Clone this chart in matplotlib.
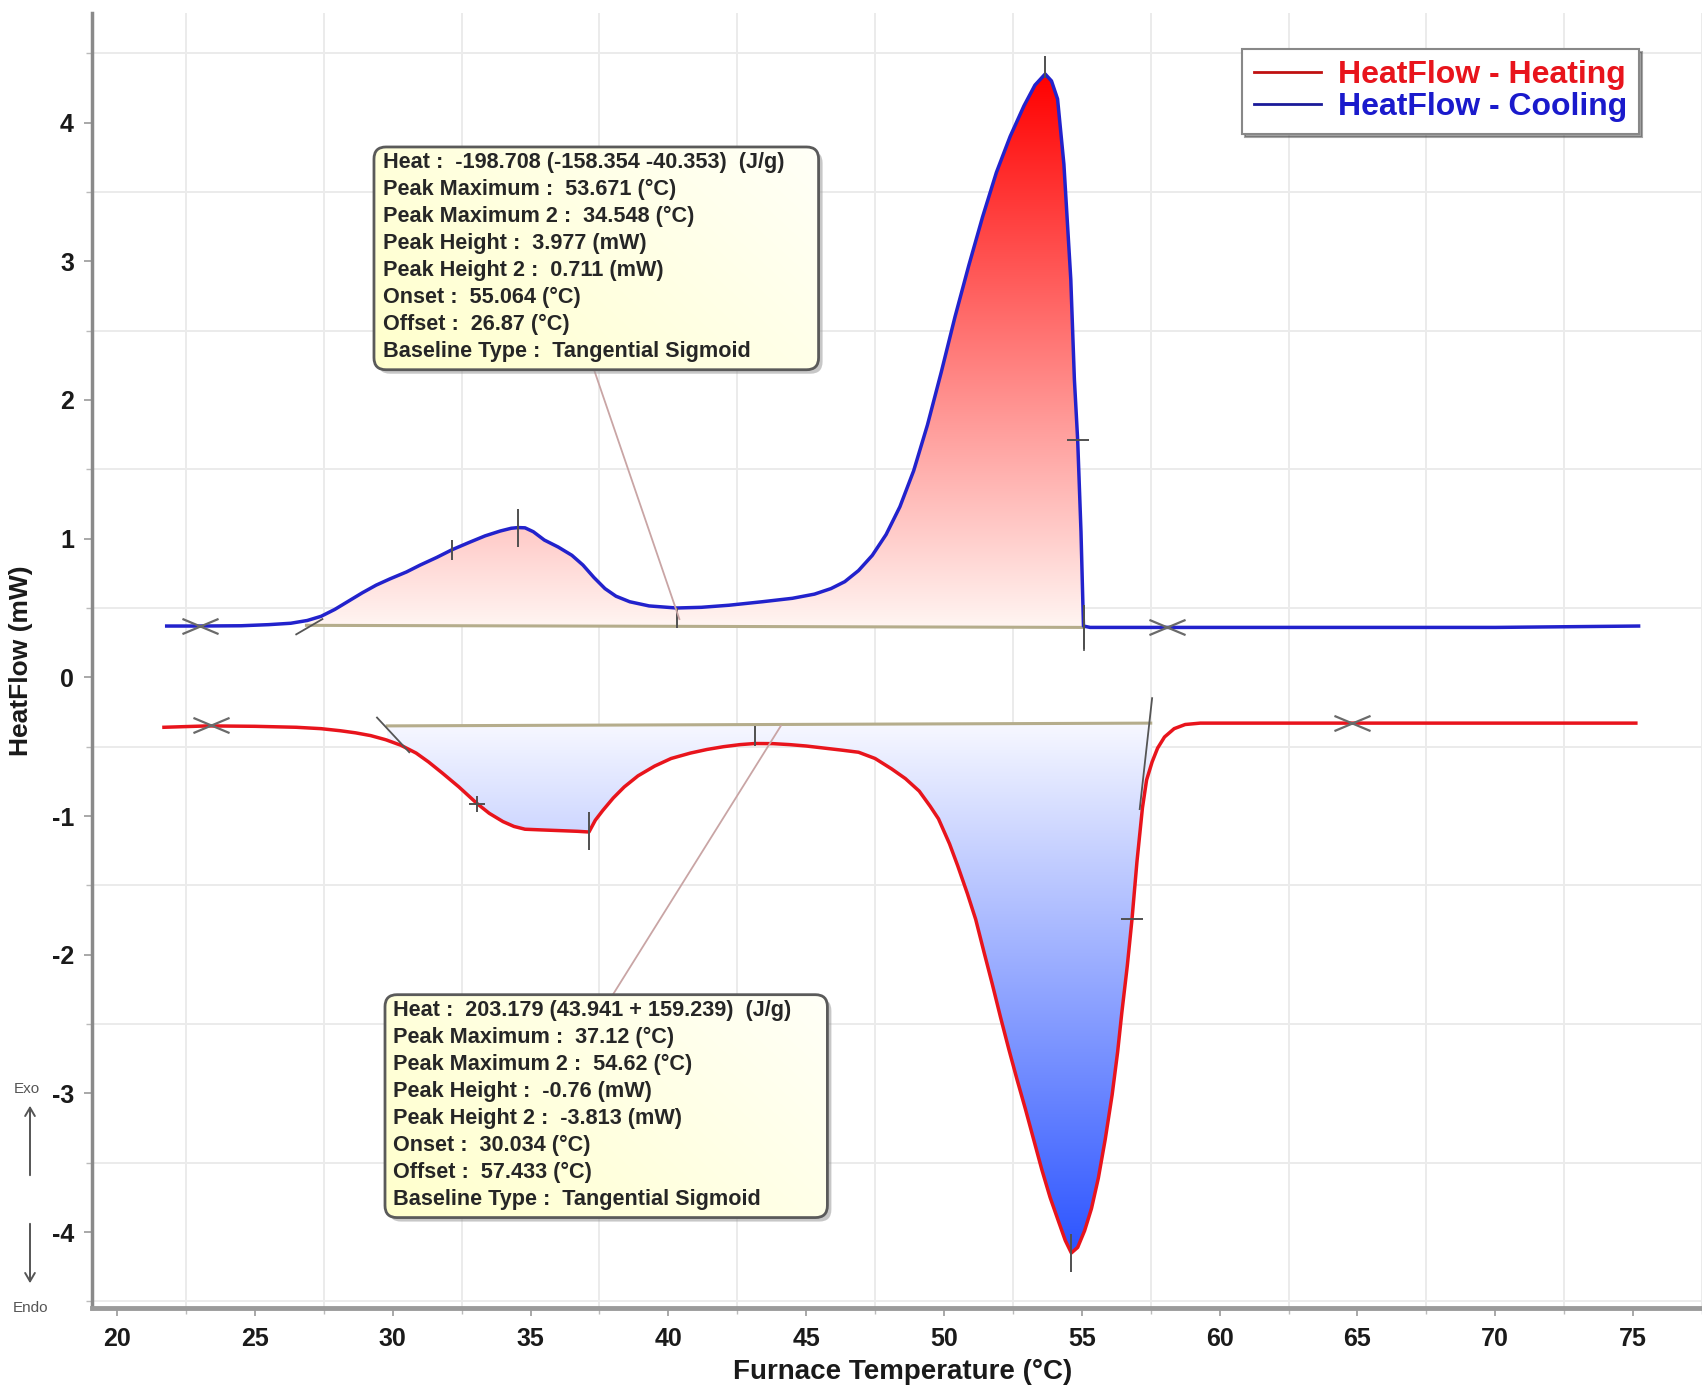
import numpy as np
import matplotlib
matplotlib.use("Agg")
import matplotlib.pyplot as plt
from matplotlib.patches import FancyBboxPatch, Polygon, FancyArrowPatch
from matplotlib.colors import LinearSegmentedColormap
from matplotlib.lines import Line2D
from matplotlib.path import Path

plt.rcParams['font.family'] = ['Liberation Sans', 'DejaVu Sans']

# ---------------- data ----------------
cool_T = [21.8, 23.0, 24.5, 25.5, 26.3, 26.9, 27.4, 27.9, 28.4, 28.9, 29.4, 29.9,
          30.5, 31.0, 31.6, 32.15, 32.8, 33.35, 33.9, 34.3, 34.55, 34.8, 35.1, 35.5,
          36.0, 36.5, 36.9, 37.3, 37.7, 38.1, 38.6, 39.3, 40.3, 41.2, 42.2, 43.4,
          44.5, 45.3, 45.9, 46.4, 46.9, 47.4, 47.9, 48.4, 48.9, 49.4, 49.9, 50.4,
          50.9, 51.4, 51.9, 52.4, 52.9, 53.3, 53.67, 53.9, 54.12, 54.35, 54.6, 54.73,
          54.85, 54.97, 55.06, 55.3, 58.0, 62.0, 66.0, 70.0, 75.2]
cool_HF = [0.37, 0.37, 0.372, 0.38, 0.39, 0.41, 0.44, 0.49, 0.55, 0.61, 0.665, 0.71,
           0.76, 0.81, 0.865, 0.92, 0.975, 1.02, 1.055, 1.075, 1.08, 1.078, 1.05, 0.99,
           0.94, 0.88, 0.81, 0.72, 0.64, 0.585, 0.545, 0.515, 0.50, 0.505, 0.52, 0.545,
           0.57, 0.60, 0.64, 0.69, 0.77, 0.88, 1.03, 1.23, 1.49, 1.82, 2.20, 2.60,
           2.97, 3.32, 3.64, 3.90, 4.12, 4.27, 4.35, 4.30, 4.17, 3.70, 2.87, 2.15,
           1.71, 1.05, 0.37, 0.36, 0.36, 0.36, 0.36, 0.36, 0.37]

heat_T = [21.7, 23.3, 25.0, 26.5, 27.4, 28.1, 28.65, 29.2, 29.75, 30.3, 30.85, 31.3,
          31.8, 32.4, 33.06, 33.5, 34.0, 34.4, 34.8, 35.4, 36.05, 36.7, 37.12, 37.35,
          37.62, 38.0, 38.4, 38.9, 39.5, 40.1, 40.8, 41.4, 42.0, 42.6, 43.14, 43.8,
          44.4, 45.0, 45.65, 46.3, 46.9, 47.5, 48.1, 48.6, 49.1, 49.5, 49.8, 50.2,
          50.5, 50.85, 51.15, 51.45, 51.75, 52.05, 52.35, 52.65, 52.95, 53.25, 53.55, 53.85,
          54.15, 54.4, 54.62, 54.85, 55.1, 55.35, 55.6, 55.85, 56.1, 56.3, 56.45, 56.65,
          56.82, 57.0, 57.2, 57.35, 57.55, 57.75, 58.0, 58.35, 58.75, 59.3, 62.0, 66.0,
          70.0, 75.1]
heat_HF = [-0.36, -0.35, -0.353, -0.36, -0.37, -0.385, -0.40, -0.42, -0.45, -0.49, -0.546, -0.61,
           -0.69, -0.79, -0.91, -0.98, -1.04, -1.075, -1.095, -1.10, -1.105, -1.11, -1.115, -1.03,
           -0.96, -0.87, -0.79, -0.71, -0.64, -0.585, -0.546, -0.52, -0.50, -0.485, -0.477, -0.478,
           -0.485, -0.495, -0.51, -0.525, -0.54, -0.585, -0.66, -0.73, -0.82, -0.93, -1.02, -1.20,
           -1.36, -1.56, -1.745, -1.98, -2.21, -2.45, -2.68, -2.90, -3.11, -3.33, -3.55, -3.75,
           -3.92, -4.06, -4.15, -4.11, -3.99, -3.83, -3.61, -3.33, -3.01, -2.70, -2.42, -2.08,
           -1.745, -1.33, -0.94, -0.74, -0.61, -0.51, -0.43, -0.37, -0.34, -0.33, -0.33, -0.33,
           -0.33, -0.33]

# tangential sigmoid baselines
cool_base_T = [26.87, 55.064]
cool_base_HF = [0.375, 0.36]
heat_base_T = [29.8, 57.5]
heat_base_HF = [-0.35, -0.33]

# tangent construction lines
cool_tan_T = [[26.5, 27.45], [55.064, 55.064]]
cool_tan_HF = [[0.31, 0.42], [0.2, 0.51]]
heat_tan_T = [[29.43, 30.6], [57.55, 57.1]]
heat_tan_HF = [[-0.29, -0.54], [-0.15, -0.95]]

# integration limit markers (X)
cool_lim_T = [23.0, 58.1]
cool_lim_HF = [0.37, 0.36]
heat_lim_T = [23.4, 64.8]
heat_lim_HF = [-0.34, -0.33]

# characteristic point ticks
cool_vt_T = [34.548, 53.671, 40.3, 32.15, 55.064]
cool_vt_HF = [1.08, 4.40, 0.43, 0.92, 0.36]
cool_vt_size = [28, 16, 14, 14, 32]
cool_ht_T = [54.85]
cool_ht_HF = [1.71]
heat_vt_T = [37.12, 43.14, 54.62]
heat_vt_HF = [-1.11, -0.42, -4.15]
heat_vt_size = [28, 15, 28]
heat_ht_T = [56.82]
heat_ht_HF = [-1.745]
heat_cross_T = [33.06]
heat_cross_HF = [-0.91]

top_lines = ["Heat :  -198.708 (-158.354 -40.353)  (J/g)",
             "Peak Maximum :  53.671 (°C)",
             "Peak Maximum 2 :  34.548 (°C)",
             "Peak Height :  3.977 (mW)",
             "Peak Height 2 :  0.711 (mW)",
             "Onset :  55.064 (°C)",
             "Offset :  26.87 (°C)",
             "Baseline Type :  Tangential Sigmoid"]
bot_lines = ["Heat :  203.179 (43.941 + 159.239)  (J/g)",
             "Peak Maximum :  37.12 (°C)",
             "Peak Maximum 2 :  54.62 (°C)",
             "Peak Height :  -0.76 (mW)",
             "Peak Height 2 :  -3.813 (mW)",
             "Onset :  30.034 (°C)",
             "Offset :  57.433 (°C)",
             "Baseline Type :  Tangential Sigmoid"]

x_ticks = list(range(20, 80, 5))
y_ticks = [-4, -3, -2, -1, 0, 1, 2, 3, 4]

# ---------------- figure ----------------
W, H = 1702, 1386
fig = plt.figure(figsize=(W / 100, H / 100), dpi=100)
ax = fig.add_axes([92 / W, 1 - 1308 / H, 1610 / W, 1295 / H])
XLIM = (19.09, 77.44)
YLIM = (-4.547, 4.79)

RED = '#e8141c'
BLUE = '#2222cc'


def gradient_fill(T, HF, bT, bHF, y_lo, y_hi, c_lo, c_hi):
    T = np.asarray(T, float)
    HF = np.asarray(HF, float)
    t0, t1 = bT[0], bT[-1]
    m = (T > t0) & (T < t1)
    xs = np.concatenate([[t0], T[m], [t1]])
    ys = np.concatenate([[np.interp(t0, T, HF)], HF[m], [np.interp(t1, T, HF)]])
    bs = np.interp(xs, bT, bHF)
    verts = list(zip(xs, ys)) + list(zip(xs[::-1], bs[::-1]))
    poly = Polygon(verts, closed=True, facecolor='none', edgecolor='none',
                   transform=ax.transData)
    ax.add_patch(poly)
    cmap = LinearSegmentedColormap.from_list('g', [c_lo, c_hi])
    grad = np.linspace(0, 1, 256).reshape(-1, 1)
    im = ax.imshow(grad, extent=[t0, t1, y_lo, y_hi], origin='lower',
                   aspect='auto', cmap=cmap, zorder=1, interpolation='bilinear')
    im.set_clip_path(poly)


gradient_fill(cool_T, cool_HF, cool_base_T, cool_base_HF,
              min(cool_base_HF), max(cool_HF), '#fff5f2', '#ff0000')
gradient_fill(heat_T, heat_HF, heat_base_T, heat_base_HF,
              min(heat_HF), max(heat_base_HF), '#2c54ff', '#f7f8ff')

# baselines
ax.plot(cool_base_T, cool_base_HF, color='#b5ad8c', lw=2.2, zorder=2)
ax.plot(heat_base_T, heat_base_HF, color='#b5ad8c', lw=2.2, zorder=2)

# curves
ax.plot(heat_T, heat_HF, color=RED, lw=2.5, zorder=4, solid_joinstyle='round')
ax.plot(cool_T, cool_HF, color=BLUE, lw=2.5, zorder=4, solid_joinstyle='round')

# tangent lines
for tt, hh in zip(cool_tan_T + heat_tan_T, cool_tan_HF + heat_tan_HF):
    ax.plot(tt, hh, color='#555555', lw=1.3, zorder=5)

# X limit markers
xpath = Path([(-1, -0.42), (1, 0.42), (-1, 0.42), (1, -0.42)],
             [Path.MOVETO, Path.LINETO, Path.MOVETO, Path.LINETO])
ax.plot(cool_lim_T, cool_lim_HF, ls='none', marker=xpath, ms=26, mew=1.6,
        color='#6a6a6a', zorder=6)
ax.plot(heat_lim_T, heat_lim_HF, ls='none', marker=xpath, ms=26, mew=1.6,
        color='#6a6a6a', zorder=6)

# characteristic ticks
for t, h, s in zip(cool_vt_T + heat_vt_T, cool_vt_HF + heat_vt_HF,
                   cool_vt_size + heat_vt_size):
    ax.plot([t], [h], ls='none', marker='|', ms=s, mew=1.4, color='#505050', zorder=6)
for t, h in zip(cool_ht_T + heat_ht_T, cool_ht_HF + heat_ht_HF):
    ax.plot([t], [h], ls='none', marker='_', ms=16, mew=1.4, color='#505050', zorder=6)
ax.plot(heat_cross_T, heat_cross_HF, ls='none', marker='+', ms=12, mew=1.4,
        color='#505050', zorder=6)

# ---------------- annotation boxes ----------------
px_x = (XLIM[1] - XLIM[0]) / 1610.0
px_y = (YLIM[1] - YLIM[0]) / 1295.0


def info_box(x0, y1, x1, y0, lines, tx, ty, anchor_from, anchor_to):
    ax.plot([anchor_from[0], anchor_to[0]], [anchor_from[1], anchor_to[1]],
            color='#c9a5a5', lw=1.3, zorder=7)
    rs = 12 * px_x
    asp = px_y / px_x
    shadow = FancyBboxPatch((x0 + 4 * px_x, y0 - 4 * px_y), x1 - x0, y1 - y0,
                            boxstyle=f"round,pad=0,rounding_size={rs}",
                            mutation_aspect=asp, facecolor='#9a9a9a',
                            edgecolor='none', alpha=0.55, zorder=8)
    ax.add_patch(shadow)
    box = FancyBboxPatch((x0, y0), x1 - x0, y1 - y0,
                         boxstyle=f"round,pad=0,rounding_size={rs}",
                         mutation_aspect=asp, facecolor='none',
                         edgecolor='#5a5a5a', lw=2.0, zorder=10)
    ax.add_patch(box)
    u = np.linspace(0, 1, 200)[None, :]
    v = np.linspace(0, 1, 100)[:, None]
    f = np.clip(0.65 * u + 0.35 * (1 - v), 0, 1)
    c0 = np.array([1.0, 1.0, 0.80])
    c1 = np.array([1.0, 1.0, 0.97])
    img = c0[None, None, :] * (1 - f[..., None]) + c1[None, None, :] * f[..., None]
    im = ax.imshow(img, extent=[x0, x1, y0, y1], origin='upper', aspect='auto',
                   zorder=9, interpolation='bilinear')
    im.set_clip_path(box)
    step = 27 * px_y
    for i, s in enumerate(lines):
        ax.text(tx, ty - i * step, s, fontsize=15.6, fontweight='bold',
                color='#262626', va='center', ha='left', zorder=11)


info_box(29.32, 3.824, 45.45, 2.218, top_lines, 29.65, 3.71,
         (37.3, 2.22), (40.4, 0.42))
info_box(29.72, -2.288, 45.77, -3.895, bot_lines, 30.02, -2.405,
         (37.98, -2.29), (44.08, -0.35))

# ---------------- axes styling ----------------
ax.set_xlim(*XLIM)
ax.set_ylim(*YLIM)
ax.set_xticks(x_ticks)
ax.set_xticklabels([str(t) for t in x_ticks])
ax.set_yticks(y_ticks)
ax.set_yticklabels([str(t) for t in y_ticks])
ax.set_xticks([t + 2.5 for t in x_ticks], minor=True)
ax.set_yticks([t + 0.5 for t in range(-5, 5)], minor=True)
ax.grid(which='minor', color='#ebebeb', lw=1.4, zorder=0)
ax.grid(which='major', visible=False)
ax.set_axisbelow(True)
for sp in ['top', 'right']:
    ax.spines[sp].set_visible(False)
ax.spines['left'].set_color('#8a8a8a')
ax.spines['left'].set_linewidth(2.5)
ax.spines['bottom'].set_color('#9a9a9a')
ax.spines['bottom'].set_linewidth(3.5)
ax.tick_params(axis='both', which='major', length=6, width=1.2, color='#999999',
               labelsize=18, labelcolor='#1a1a1a')
ax.tick_params(axis='x', which='major', pad=8)
ax.tick_params(axis='y', which='major', pad=7)
ax.tick_params(axis='both', which='minor', length=4, width=1.0, color='#bbbbbb')
for lab in ax.get_xticklabels() + ax.get_yticklabels():
    lab.set_fontweight('bold')

ax.set_xlabel('Furnace Temperature (°C)', fontsize=20, fontweight='bold', color='#1a1a1a')
ax.set_ylabel('HeatFlow (mW)', fontsize=19, fontweight='bold', color='#1a1a1a')
ax.xaxis.set_label_coords(0.5037, -0.039)
ax.yaxis.set_label_coords(-0.0366, 0.5)

# legend
handles = [Line2D([], [], color='#c01010', lw=2),
           Line2D([], [], color='#1a1a99', lw=2)]
leg = ax.legend(handles, ['HeatFlow - Heating', 'HeatFlow - Cooling'],
                loc='upper right', bbox_to_anchor=((1639 - 92) / 1610, (1308 - 49) / 1295),
                prop={'size': 23, 'weight': 'bold'}, labelcolor=[RED, '#1a1acc'],
                frameon=True, fancybox=False, shadow=True, framealpha=1,
                edgecolor='#888888', handlelength=2.1, handletextpad=0.55,
                labelspacing=0.06, borderpad=0.36, borderaxespad=0)
leg.get_frame().set_linewidth(1.5)
leg.set_zorder(12)

# Exo / Endo indicator
fig.text(27 / W, 1 - 1089 / H, 'Exo', fontsize=11, color='#555555', ha='center', va='center')
fig.text(30 / W, 1 - 1308 / H, 'Endo', fontsize=11, color='#555555', ha='center', va='center')
fig.add_artist(FancyArrowPatch(
    (30 / W, 1 - 1178 / H), (30 / W, 1 - 1103 / H), transform=fig.transFigure,
    arrowstyle='->,head_length=6,head_width=3.5', color='#555555', lw=1.4))
fig.add_artist(FancyArrowPatch(
    (30 / W, 1 - 1221 / H), (30 / W, 1 - 1286 / H), transform=fig.transFigure,
    arrowstyle='->,head_length=6,head_width=3.5', color='#555555', lw=1.4))

fig.savefig('out.png', dpi=100)
